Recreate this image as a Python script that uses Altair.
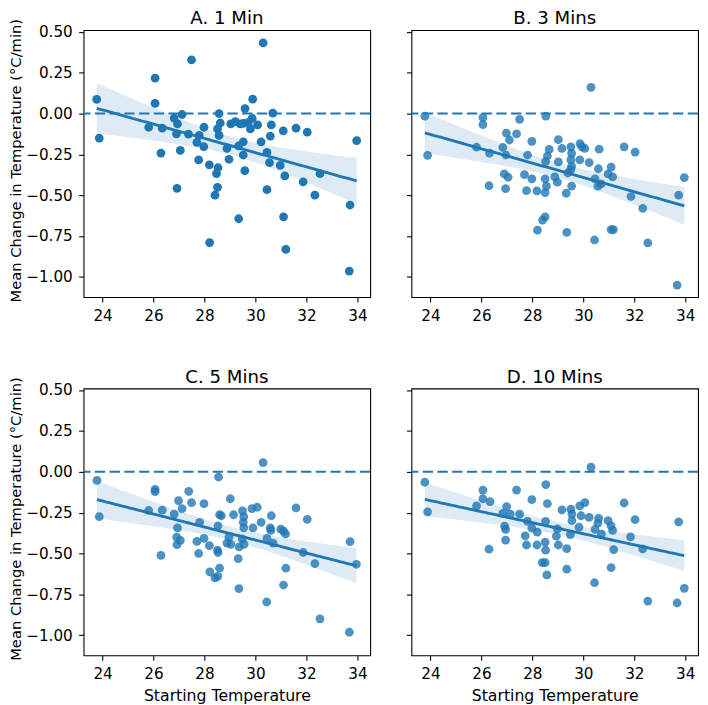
import altair as alt
import numpy as np
import pandas as pd

# ---------------- data ----------------
titles = ["A. 1 Min", "B. 3 Mins", "C. 5 Mins", "D. 10 Mins"]
y_label = ["Mean Change in Temperature (°C/min)"]
x_label = "Starting Temperature"

a_x = [23.77, 23.87, 26.06, 26.06, 25.81, 26.34, 26.29, 27.49, 26.81, 27.12, 26.94, 26.90,
       27.05, 26.92, 27.37, 27.70, 27.98, 27.79, 27.97, 27.77, 28.19, 28.53, 28.47, 28.51,
       28.41, 28.20, 28.57, 28.62, 28.51, 28.57, 28.88, 28.96, 29.03, 29.21, 29.40, 29.59,
       29.89, 29.87, 29.80, 30.08, 29.52, 29.34, 29.52, 29.58, 29.34, 30.30, 30.68, 30.62,
       30.58, 30.22, 30.45, 30.55, 30.45, 30.97, 31.15, 31.09, 31.10, 31.19, 31.59, 32.03,
       31.87, 32.33, 32.53, 33.71, 33.68, 33.97, 29.53, 29.72]
a_y = [0.086, -0.150, 0.216, 0.062, -0.084, -0.090, -0.242, 0.328, -0.028, -0.006, -0.064, -0.124,
       -0.226, -0.458, -0.126, -0.176, -0.084, -0.134, -0.202, -0.284, -0.314, -0.332, -0.368, -0.452,
       -0.500, -0.790, 0.000, -0.058, -0.094, -0.134, -0.214, -0.280, -0.064, -0.050, -0.064, 0.030,
       0.088, -0.030, -0.094, -0.070, -0.174, -0.198, -0.254, -0.350, -0.644, 0.432, 0.002, -0.070,
       -0.138, -0.174, -0.238, -0.300, -0.466, -0.318, -0.382, -0.106, -0.632, -0.832, -0.090, -0.114,
       -0.418, -0.500, -0.368, -0.560, -0.964, -0.166, -0.060, -0.055]

b_x = [23.78, 23.89, 25.81, 26.06, 26.06, 26.32, 26.30, 26.84, 26.98, 27.10, 26.96, 26.90,
       27.05, 26.95, 27.38, 27.50, 27.69, 27.77, 27.81, 27.98, 27.98, 28.18, 28.20, 28.40,
       28.50, 28.53, 28.50, 28.50, 28.55, 28.52, 28.59, 28.66, 28.88, 28.98, 29.02, 29.02,
       29.16, 29.33, 29.35, 29.39, 29.51, 29.54, 29.51, 29.54, 29.51, 29.54, 29.86, 29.87,
       29.94, 30.06, 30.23, 30.30, 30.44, 30.46, 30.57, 30.70, 30.59, 30.62, 30.97, 31.09,
       31.15, 31.09, 31.18, 31.60, 32.03, 31.87, 32.33, 32.53, 33.74, 33.68, 33.96]
b_y = [-0.016, -0.256, -0.206, -0.024, -0.068, -0.242, -0.442, -0.208, -0.120, -0.162, -0.254, -0.370,
       -0.390, -0.460, -0.124, -0.036, -0.374, -0.472, -0.254, -0.170, -0.400, -0.474, -0.714, -0.652,
       -0.632, -0.016, -0.400, -0.484, -0.444, -0.294, -0.260, -0.220, -0.388, -0.420, -0.160, -0.296,
       -0.214, -0.488, -0.728, -0.364, -0.204, -0.244, -0.284, -0.324, -0.344, -0.444, -0.284, -0.184,
       -0.204, -0.214, -0.300, 0.160, -0.774, -0.400, -0.444, -0.430, -0.338, -0.218, -0.370, -0.328,
       -0.388, -0.710, -0.710, -0.204, -0.236, -0.508, -0.580, -0.792, -0.500, -1.050, -0.392]

c_x = [23.78, 23.87, 25.81, 26.06, 26.06, 26.34, 26.29, 26.81, 26.98, 27.12, 26.94, 26.91,
       27.05, 26.92, 27.38, 27.49, 27.81, 27.70, 27.77, 27.98, 27.98, 28.19, 28.21, 28.41,
       28.52, 28.59, 28.55, 28.53, 28.51, 28.53, 28.59, 28.66, 28.88, 28.96, 29.01, 29.03,
       29.14, 29.32, 29.35, 29.36, 29.49, 29.54, 29.52, 29.54, 29.48, 29.55, 29.86, 29.90,
       30.07, 30.22, 30.30, 30.44, 30.45, 30.62, 30.58, 30.69, 30.60, 30.99, 31.10, 31.18,
       31.10, 31.19, 31.59, 32.03, 31.87, 32.33, 32.53, 33.71, 33.68, 33.96]
c_y = [-0.052, -0.275, -0.237, -0.108, -0.122, -0.235, -0.512, -0.259, -0.177, -0.225, -0.343, -0.400,
       -0.420, -0.446, -0.120, -0.189, -0.309, -0.426, -0.500, -0.195, -0.408, -0.452, -0.612, -0.649,
       -0.640, -0.590, -0.032, -0.331, -0.480, -0.494, -0.263, -0.269, -0.436, -0.400, -0.165, -0.444,
       -0.263, -0.532, -0.715, -0.460, -0.239, -0.275, -0.309, -0.343, -0.410, -0.444, -0.225, -0.343,
       -0.217, -0.309, 0.056, -0.797, -0.408, -0.269, -0.343, -0.436, -0.359, -0.351, -0.363, -0.380,
       -0.693, -0.590, -0.221, -0.291, -0.494, -0.562, -0.900, -0.428, -0.982, -0.566]

d_x = [23.78, 23.89, 25.81, 26.06, 26.06, 26.34, 26.30, 26.84, 26.99, 27.13, 26.91, 26.95,
       26.95, 27.38, 27.50, 27.81, 27.72, 27.77, 27.98, 27.98, 28.19, 28.18, 28.39, 28.50,
       28.57, 28.53, 28.59, 28.52, 28.50, 28.52, 28.98, 28.94, 29.02, 29.16, 29.35, 29.35,
       29.49, 29.51, 29.55, 29.55, 29.83, 29.86, 29.91, 30.06, 30.23, 30.30, 30.44, 30.46,
       30.57, 30.60, 30.71, 30.97, 31.09, 31.15, 31.19, 31.09, 31.60, 32.03, 31.85, 32.33,
       32.53, 33.74, 33.68, 33.96]
d_y = [-0.064, -0.245, -0.209, -0.112, -0.165, -0.183, -0.474, -0.255, -0.213, -0.259, -0.333, -0.353,
       -0.418, -0.112, -0.259, -0.303, -0.392, -0.448, -0.171, -0.345, -0.369, -0.448, -0.556, -0.556,
       -0.631, -0.078, -0.195, -0.303, -0.430, -0.480, -0.349, -0.394, -0.448, -0.233, -0.470, -0.596,
       -0.384, -0.229, -0.259, -0.299, -0.339, -0.209, -0.269, -0.189, -0.279, 0.028, -0.679, -0.353,
       -0.315, -0.285, -0.382, -0.299, -0.331, -0.359, -0.476, -0.586, -0.191, -0.293, -0.398, -0.472,
       -0.791, -0.307, -0.803, -0.713]

x_ticks = [24, 26, 28, 30, 32, 34]
y_ticks = [0.50, 0.25, 0.00, -0.25, -0.50, -0.75, -1.00]

BLUE = "#1f77b4"
FONT = "DejaVu Sans"
LBL_FS = 15.5
YT_FS = 15
XT_FS = 16
TITLE_FS = 18.5
W = 292
H = 272
x_dom = [23.255, 34.50]
y_dom = [-1.124, 0.51]


def fit_table(xs, ys):
    x = np.asarray(xs, dtype=float)
    y = np.asarray(ys, dtype=float)
    n = len(x)
    slope, inter = np.polyfit(x, y, 1)
    grid = np.linspace(x.min(), x.max(), 100)
    yhat = inter + slope * grid
    resid = y - (inter + slope * x)
    s = np.sqrt(np.sum(resid ** 2) / (n - 2))
    sxx = np.sum((x - x.mean()) ** 2)
    se = s * np.sqrt(1.0 / n + (grid - x.mean()) ** 2 / sxx)
    t = 1.995
    return pd.DataFrame({"x": grid, "fit": yhat, "lo": yhat - t * se, "hi": yhat + t * se})


def panel(title, xs, ys, opacity, left, bottom):
    pts = pd.DataFrame({"x": xs, "y": ys})
    fit = fit_table(xs, ys)
    xs_ = alt.Scale(domain=x_dom, nice=False, zero=False)
    ys_ = alt.Scale(domain=y_dom, nice=False, zero=False)
    if bottom:
        x_axis = alt.Axis(values=x_ticks, format="d", title=x_label)
    else:
        x_axis = alt.Axis(values=x_ticks, format="d", title=None)
    y_axis = alt.Axis(values=y_ticks, format=".2f", labels=left, title=None)

    def X(f):
        return alt.X(f, scale=xs_, axis=x_axis)

    def Y(f):
        return alt.Y(f, scale=ys_, axis=y_axis)

    zero = alt.Chart(pd.DataFrame({"z": [0.0]})).mark_rule(
        color=BLUE, strokeWidth=1.9, strokeDash=[10.5, 4.5]
    ).encode(y=Y("z:Q"))

    dots = alt.Chart(pts).mark_circle(size=80, color=BLUE, opacity=opacity).encode(
        x=X("x:Q"), y=Y("y:Q")
    )
    band = alt.Chart(fit).mark_area(color=BLUE, opacity=0.15).encode(
        x=X("x:Q"), y=Y("lo:Q"), y2="hi:Q"
    )
    line = alt.Chart(fit).mark_line(color=BLUE, strokeWidth=2.9).encode(
        x=X("x:Q"), y=Y("fit:Q")
    )
    head = alt.Chart(pd.DataFrame({"t": [title]})).mark_text(
        font=FONT, fontSize=TITLE_FS, color="black", align="center", baseline="alphabetic"
    ).encode(text="t:N", x=alt.value(W / 2), y=alt.value(-6))

    layers = [zero, dots, band, line, head]
    if left:
        ylab = alt.Chart(pd.DataFrame({"t": y_label})).mark_text(
            font=FONT, fontSize=YT_FS, color="black", align="center",
            baseline="alphabetic", angle=270
        ).encode(text="t:N", x=alt.value(-64), y=alt.value(133))
        layers.append(ylab)
    return alt.layer(*layers).properties(width=W, height=H)


pa = panel(titles[0], a_x, a_y, 1.0, True, False)
pb = panel(titles[1], b_x, b_y, 0.8, False, False)
pc = panel(titles[2], c_x, c_y, 0.8, True, True)
pd_ = panel(titles[3], d_x, d_y, 0.8, False, True)

chart = alt.vconcat(
    alt.hconcat(pa, pb, spacing=33),
    alt.hconcat(pc, pd_, spacing=33),
    spacing=43,
).properties(
    padding={"left": 0, "top": -6, "right": 0, "bottom": 0}
).configure_view(
    stroke="black", strokeWidth=1.1
).configure_axis(
    domain=False, grid=False, tickColor="black", tickSize=5, tickWidth=1.1,
    labelFont=FONT, labelFontSize=LBL_FS, labelColor="black", labelPadding=6.5,
    titleFont=FONT, titleFontSize=XT_FS, titleFontWeight="normal", titleColor="black",
    titlePadding=6,
)

chart.save("out.html", embed_options={"renderer": "svg", "actions": False})
